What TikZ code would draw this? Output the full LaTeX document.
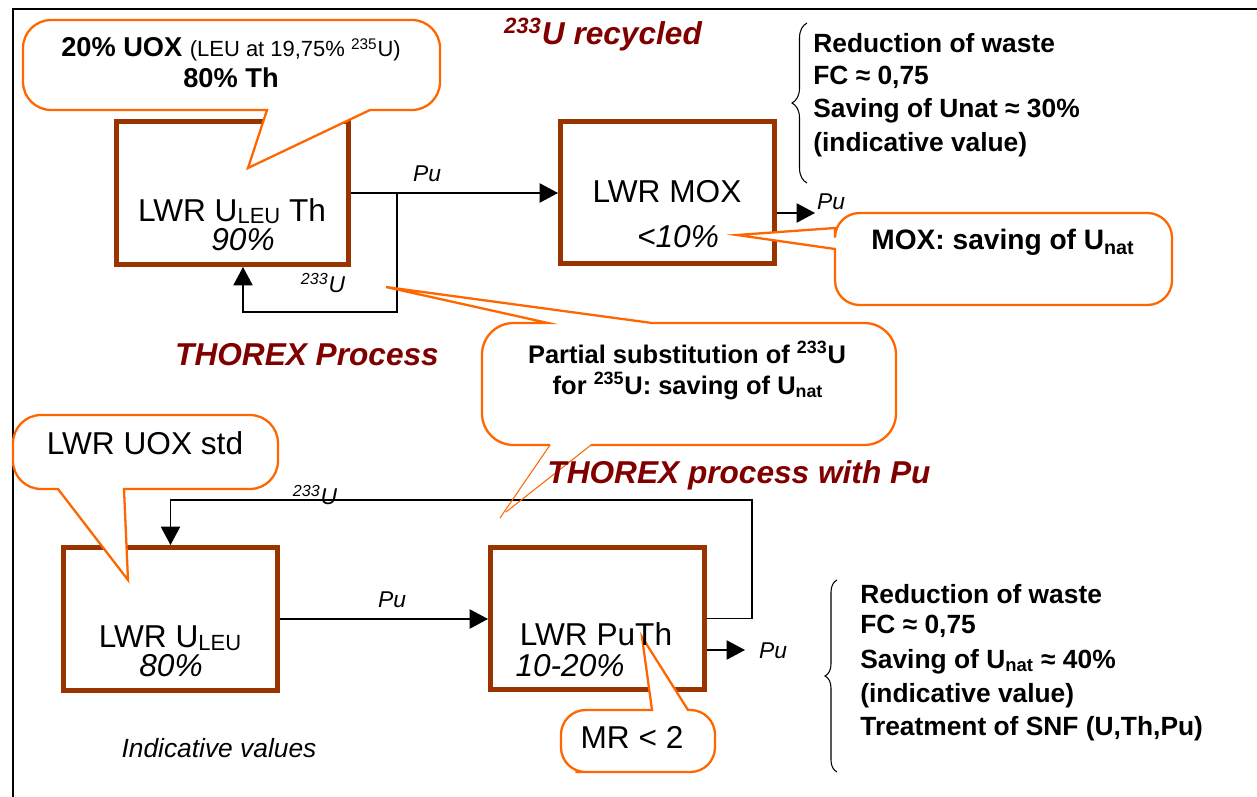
\documentclass[tikz,border=0pt]{standalone}
\usepackage{fontspec}
\setmainfont{Liberation Sans}
\usetikzlibrary{arrows.meta,decorations.pathreplacing}

\definecolor{rust}{HTML}{993300}
\definecolor{bubbleorange}{HTML}{FF6600}
\definecolor{darkred}{HTML}{800000}

\begin{document}
\begin{tikzpicture}[x=0.02cm, y=-0.02cm,
    reactor/.style={draw=rust, line width=0.1cm, minimum width=4.28cm, minimum height=2.86cm, inner sep=0pt},
    flow/.style={line width=0.8pt, -{Triangle[length=10.5pt,width=11pt]}},
    bubble/.style={draw=bubbleorange, fill=white, line width=1.3pt},
    boxtext/.style={inner sep=0pt, anchor=base, font=\fontsize{18}{22}\selectfont},
    boxpct/.style={inner sep=0pt, anchor=base, font=\fontsize{18}{22}\selectfont\itshape},
    flowtext/.style={inner sep=0pt, anchor=base, font=\fontsize{13}{16}\selectfont\itshape},
    title/.style={inner sep=0pt, anchor=base, text=darkred, font=\fontsize{18}{22}\selectfont\bfseries\itshape},
    bubbletext/.style={inner sep=0pt, anchor=base, font=\fontsize{15.5}{18}\selectfont\bfseries},
    gain/.style={inner sep=0pt, anchor=base west, font=\fontsize{15}{18}\selectfont\bfseries},
    brace/.style={decorate, line width=0.6pt}]
    \useasboundingbox (0,0) rectangle (1257,797);

    % frame
    \draw[line width=1.2pt] (1257,9) -- (13,9) -- (13,797);

    % reactors
    \node[reactor, minimum width=4.64cm] (b1) at (232.5,193) {};
    \node[reactor] (mox) at (667.5,192.5) {};
    \node[reactor] (b3) at (170.5,619) {};
    \node[reactor] (puth) at (597.5,618.5) {};

    % flows, upper cycle
    \coordinate (split1) at (397,193);
    \coordinate (ret1) at (243,312);
    \coordinate (moxout) at (815,213);
    \draw[flow] (b1.east) -- (b1.east -| mox.west);
    \draw[flow] (split1) |- (ret1) -- (ret1 |- b1.south);
    \draw[flow] (mox.east |- moxout) -- (moxout);

    % flows, lower cycle
    \coordinate (ret2) at (752,500);
    \coordinate (puthout) at (745,650);
    \draw[flow] (b3.east) -- (b3.east -| puth.west);
    \draw[flow] (puth.east) -| (ret2) -| (b3.north);
    \draw[flow] (puth.east |- puthout) -- (puthout);

    % callouts (sharp corners only round the tails)
    \filldraw[bubble] (300,20) [rounded corners=16] -- (23,20) -- (23,110) [sharp corners] -- (267,110) -- (248,168) -- (370,110) [rounded corners=16] -- (440,110) -- (440,20) -- cycle;
    \fill[white] (591,445) [rounded corners=18] -- (896,445) -- (896,323) [sharp corners] -- (652,323) -- (386,287) -- (548,323) [rounded corners=18] -- (482,323) -- (482,445) -- cycle;
    \draw[bubble] (591,445) [rounded corners=18] -- (896,445) -- (896,323) [sharp corners] -- (652,323) -- (386,287) -- (548,323) [rounded corners=18] -- (482,323) -- (482,445) -- (550,445);
    \draw[bubbleorange, line width=0.6pt] (550,445) -- (500,518) (591,445) -- (506,512);
    \filldraw[bubble] (1000,213) [rounded corners=14] -- (835,213) [sharp corners] -- (835,228) -- (737,235) -- (835,249) [rounded corners=14] -- (835,305) -- (1172,305) -- (1172,213) -- cycle;
    \filldraw[bubble] (150,415) [rounded corners=16] -- (13,415) -- (13,489) [sharp corners] -- (58,489) -- (128,580) -- (124,489) [rounded corners=16] -- (278,489) -- (278,415) -- cycle;
    \filldraw[bubble] (600,772) [rounded corners=14] -- (561,772) -- (561,710) [sharp corners] -- (652,710) -- (642,637) -- (688,710) [rounded corners=14] -- (715,710) -- (715,772) -- cycle;

    % reactor labels
    \node[boxtext] (b1name) at (232,222) {LWR U\raisebox{-1pt}{\fontsize{12.5}{14}\selectfont LEU} Th};
    \node[boxpct] (b1pct) at (243,251) {90\%};
    \node[boxtext] (moxname) at (667,203) {LWR MOX};
    \node[boxpct] (moxpct) at (678,248) {<10\%};
    \node[boxtext] (b3name) at (170,647) {LWR U\raisebox{-2pt}{\fontsize{12.5}{14}\selectfont LEU}};
    \node[boxpct] (b3pct) at (171,676) {80\%};
    \node[boxtext] (puthname) at (596,645) {LWR PuTh};
    \node[boxpct] (puthpct) at (570,676) {10-20\%};

    % flow labels
    \node[flowtext] (pu1) at (427,182) {Pu};
    \node[flowtext] (u233a) at (323,292) {\textsuperscript{233}U};
    \node[flowtext] (pu2) at (831,210) {Pu};
    \node[flowtext] (u233b) at (315,504) {\textsuperscript{233}U};
    \node[flowtext] (pu3) at (392,607) {Pu};
    \node[flowtext] (pu4) at (773,658) {Pu};

    % titles
    \node[title] (recycled) at (603,45) {\textsuperscript{233}U recycled};
    \node[title] (thorex) at (307,365) {THOREX Process};
    \node[title] (thorexpu) at (739,483) {THOREX process with Pu};
    \node[flowtext, font=\fontsize{15}{18}\selectfont\itshape] (indicative) at (219,757) {Indicative values};

    % callout texts
    \node[bubbletext] (uoxmix) at (231,57) {20\% UOX {\mdseries\fontsize{12.5}{15}\selectfont (LEU at 19,75\% \textsuperscript{235}U)}};
    \node[bubbletext] (thmix) at (231,88) {80\% Th};
    \node[bubbletext, font=\fontsize{14.5}{18}\selectfont\bfseries] (subst1) at (687,363) {Partial substitution of \textsuperscript{233}U};
    \node[bubbletext, font=\fontsize{14.5}{18}\selectfont\bfseries] (subst2) at (688,394) {for \textsuperscript{235}U: saving of U\textsubscript{nat}};
    \node[bubbletext, font=\fontsize{16}{18}\selectfont\bfseries] (moxsave) at (1003,250) {MOX: saving of U\textsubscript{nat}};
    \node[boxtext] (uoxstd) at (145,454) {LWR UOX std};
    \node[boxtext] (mr) at (632,748) {MR < 2};

    % gains, upper cycle
    \draw[brace, decoration={brace, amplitude=0.3cm}] (807,183) -- (807,23);
    \node[gain] (g1) at (813,53) {Reduction of waste};
    \node[gain] (g2) at (813,85) {FC ≈ 0,75};
    \node[gain] (g3) at (813,118) {Saving of Unat ≈ 30\%};
    \node[gain] (g4) at (813,152) {(indicative value)};

    % gains, lower cycle
    \draw[brace, decoration={brace, amplitude=0.24cm}] (837,772) -- (837,580);
    \node[gain] (h1) at (860,603) {Reduction of waste};
    \node[gain] (h2) at (860,633) {FC ≈ 0,75};
    \node[gain] (h3) at (860,668) {Saving of U\textsubscript{nat} ≈ 40\%};
    \node[gain] (h4) at (860,702) {(indicative value)};
    \node[gain] (h5) at (860,735) {Treatment of SNF (U,Th,Pu)};
\end{tikzpicture}
\end{document}
